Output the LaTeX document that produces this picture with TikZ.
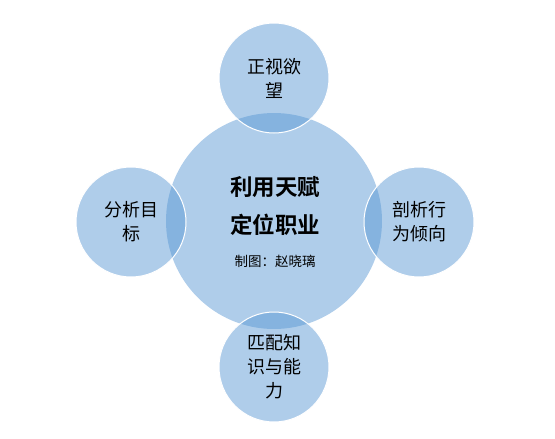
\documentclass[tikz,border=0pt]{standalone}
\usepackage{fontspec}
\setmainfont{Noto Sans CJK SC}
\newfontfamily\cjkbold{Noto Sans CJK SC Bold}
\definecolor{bubble}{HTML}{5796D3}
\begin{document}
\begin{tikzpicture}[x=1pt,y=-1pt,
  hub/.style={circle,fill=bubble,fill opacity=0.475,text opacity=1,minimum size=216pt,inner sep=0pt},
  sat/.style={circle,fill=bubble,fill opacity=0.475,text opacity=1,draw=white,draw opacity=1,line width=1pt,minimum size=110pt,inner sep=0pt,align=center,font=\fontsize{18}{24}\selectfont}]
\useasboundingbox (0,0) rectangle (555,439);
\node[hub] (c) at (274,221) {};
\node[align=center,font=\cjkbold\fontsize{22.5}{38}\selectfont] (ct) at (275,206) {利用天赋\\定位职业};
\node[font=\fontsize{13.5}{16}\selectfont] (cr) at (275,261) {制图：赵晓璃};
\node[sat] (t) at (274,78) {正视欲\\望};
\node[sat] (l) at (131,222) {分析目\\标};
\node[sat] (r) at (419,222) {剖析行\\为倾向};
\node[sat] (b) at (274,367) {匹配知\\识与能\\力};
\end{tikzpicture}
\end{document}
